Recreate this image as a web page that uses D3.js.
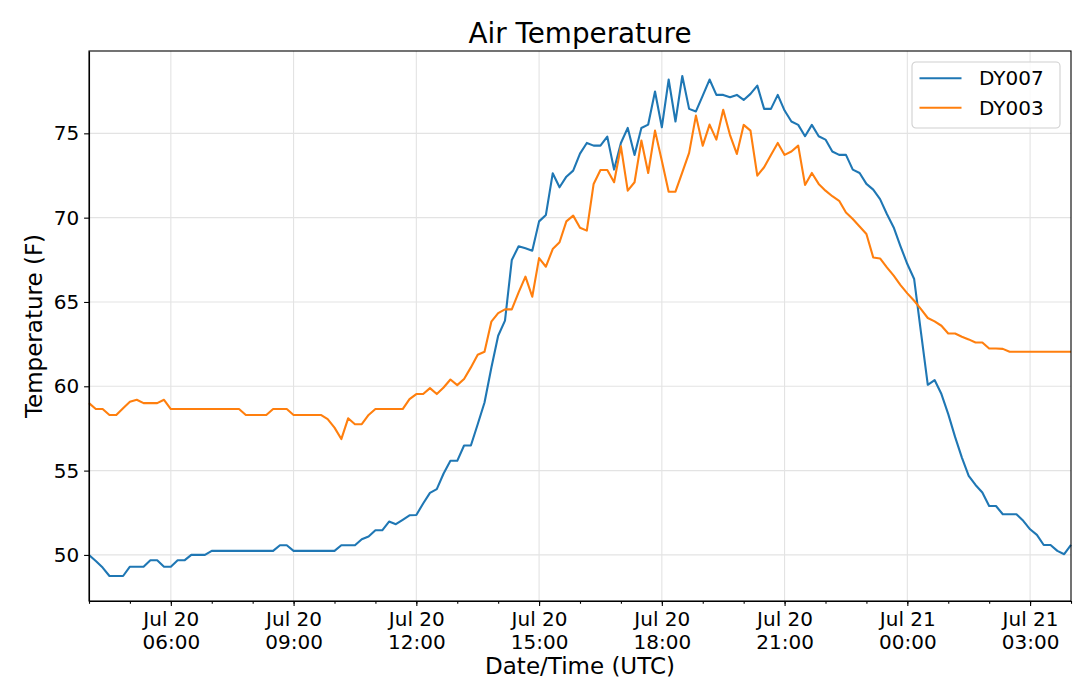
<!DOCTYPE html>
<html>
<head>
<meta charset="utf-8">
<script src="https://cdn.jsdelivr.net/npm/d3@7"></script>
<style>
    body { margin: 0; background: #fff; }
    text { font-family: "DejaVu Sans", sans-serif; fill: #000; }
    .grid line { stroke: #e3e3e3; stroke-width: 1.1px; }
    .axis path, .axis line { stroke: #000; stroke-width: 1.1px; }
</style>
</head>
<body>
<script>
//first reading and spacing of the logger (UTC)
var startTime = new Date(Date.UTC(2019, 6, 20, 4, 0));
var stepMinutes = 10;

//series names and colours
var seriesNames = ["DY007", "DY003"];
var seriesColors = ["#1f77b4", "#ff7f0e"];

//DY007 air temperature (F), one reading every 10 minutes
var dy007 = [50.0, 49.64, 49.25, 48.75, 48.75, 48.75, 49.3, 49.3, 49.3, 49.68,
    49.68, 49.3, 49.3, 49.68, 49.68, 50.0, 50.0, 50.0, 50.24, 50.24,
    50.24, 50.24, 50.24, 50.24, 50.24, 50.24, 50.24, 50.24, 50.57, 50.57,
    50.24, 50.24, 50.24, 50.24, 50.24, 50.24, 50.24, 50.57, 50.57, 50.57,
    50.93, 51.09, 51.46, 51.46, 51.98, 51.82, 52.08, 52.35, 52.37, 53.05,
    53.68, 53.9, 54.83, 55.58, 55.58, 56.49, 56.49, 57.75, 59.04, 61.1,
    63.0, 63.89, 67.49, 68.3, 68.18, 68.04, 69.78, 70.16, 72.63, 71.8,
    72.43, 72.79, 73.8, 74.43, 74.27, 74.27, 74.8, 72.85, 74.43, 75.32,
    73.72, 75.32, 75.52, 77.48, 75.36, 78.19, 75.7, 78.4, 76.45, 76.3,
    77.24, 78.19, 77.28, 77.28, 77.14, 77.28, 76.98, 77.34, 77.83, 76.45,
    76.45, 77.28, 76.35, 75.7, 75.5, 74.83, 75.5, 74.83, 74.63, 73.92,
    73.72, 73.72, 72.85, 72.65, 72.0, 71.66, 71.1, 70.22, 69.42, 68.3,
    67.25, 66.36, 63.19, 60.09, 60.37, 59.54, 58.35, 57.0, 55.77, 54.69,
    54.15, 53.7, 52.9, 52.9, 52.41, 52.41, 52.41, 52.02, 51.52, 51.19,
    50.59, 50.59, 50.24, 50.04, 50.59];

//DY003 air temperature (F)
var dy003 = [59.0, 58.65, 58.65, 58.3, 58.3, 58.7, 59.08, 59.2, 59.0, 59.0,
    59.0, 59.2, 58.65, 58.65, 58.65, 58.65, 58.65, 58.65, 58.65, 58.65,
    58.65, 58.65, 58.65, 58.3, 58.3, 58.3, 58.3, 58.65, 58.65, 58.65,
    58.3, 58.3, 58.3, 58.3, 58.3, 58.05, 57.55, 56.87, 58.1, 57.75,
    57.75, 58.3, 58.65, 58.65, 58.65, 58.65, 58.65, 59.24, 59.54, 59.54,
    59.89, 59.54, 59.93, 60.4, 60.07, 60.43, 61.12, 61.87, 62.05, 63.83,
    64.34, 64.56, 64.56, 65.57, 66.5, 65.31, 67.6, 67.09, 68.14, 68.54,
    69.78, 70.12, 69.4, 69.23, 72.0, 72.83, 72.83, 72.1, 74.23, 71.6,
    72.1, 74.57, 72.65, 75.16, 73.38, 71.54, 71.54, 72.69, 73.84, 76.05,
    74.27, 75.52, 74.63, 76.4, 74.9, 73.78, 75.5, 75.16, 72.49, 72.99,
    73.72, 74.43, 73.72, 73.92, 74.27, 71.94, 72.65, 72.0, 71.6, 71.27,
    71.0, 70.3, 69.92, 69.48, 69.03, 67.64, 67.58, 67.05, 66.56, 66.0,
    65.51, 65.07, 64.58, 64.05, 63.85, 63.59, 63.13, 63.13, 62.94, 62.78,
    62.6, 62.6, 62.24, 62.24, 62.22, 62.05, 62.05, 62.05, 62.05, 62.05,
    62.05, 62.05, 62.05, 62.05, 62.05];

//y tick values
var yTicks = [50, 55, 60, 65, 70, 75];

window.onload = drawChart();

function drawChart(){
    //figure and axes frame
    var width = 1080,
        height = 691,
        margin = {top: 51, right: 9, bottom: 90, left: 89};
    var plotW = width - margin.left - margin.right,
        plotH = height - margin.top - margin.bottom;

    var svg = d3.select("body")
        .append("svg")
        .attr("width", width)
        .attr("height", height);

    //timestamps for each reading
    var times = dy007.map(function(d, i){
        return d3.utcMinute.offset(startTime, i * stepMinutes);
    });

    var series = [dy007, dy003].map(function(vals, k){
        return {
            name: seriesNames[k],
            color: seriesColors[k],
            values: vals.map(function(v, i){ return {t: times[i], v: v}; })
        };
    });

    //x fits the data exactly, y gets a 5% margin like matplotlib
    var x = d3.scaleUtc()
        .domain(d3.extent(times))
        .range([0, plotW]);

    var all = dy007.concat(dy003);
    var lo = d3.min(all), hi = d3.max(all), pad = (hi - lo) * 0.05;
    var y = d3.scaleLinear()
        .domain([lo - pad, hi + pad])
        .range([plotH, 0]);

    var g = svg.append("g")
        .attr("transform", "translate(" + margin.left + "," + margin.top + ")");

    var majorTicks = d3.utcHour.every(3).range(x.domain()[0], x.domain()[1]).filter(function(d){
        return d > x.domain()[0];
    });
    var minorTicks = d3.utcHour.every(1).range(x.domain()[0], d3.utcMinute.offset(x.domain()[1], 1));

    //grid lines
    g.append("g")
        .attr("class", "grid")
        .selectAll("line.xg")
        .data(majorTicks)
        .enter()
        .append("line")
        .attr("x1", function(d){ return x(d); })
        .attr("x2", function(d){ return x(d); })
        .attr("y1", 0)
        .attr("y2", plotH);

    g.append("g")
        .attr("class", "grid")
        .selectAll("line.yg")
        .data(yTicks)
        .enter()
        .append("line")
        .attr("x1", 0)
        .attr("x2", plotW)
        .attr("y1", function(d){ return y(d); })
        .attr("y2", function(d){ return y(d); });

    //lines
    var line = d3.line()
        .x(function(d){ return x(d.t); })
        .y(function(d){ return y(d.v); });

    g.selectAll(".series")
        .data(series)
        .enter()
        .append("path")
        .attr("class", "series")
        .attr("fill", "none")
        .attr("stroke", function(d){ return d.color; })
        .attr("stroke-width", 2.1)
        .attr("stroke-linejoin", "round")
        .attr("d", function(d){ return line(d.values); });

    //minor x ticks (hourly)
    g.append("g")
        .attr("class", "axis")
        .attr("transform", "translate(0," + plotH + ")")
        .call(d3.axisBottom(x).tickValues(minorTicks).tickSize(2.8).tickFormat(""))
        .select(".domain").remove();

    //major x ticks with two-line labels
    var fmtDay = d3.utcFormat("%b %d"),
        fmtTime = d3.utcFormat("%H:%M");
    var xAxis = g.append("g")
        .attr("class", "axis")
        .attr("transform", "translate(0," + plotH + ")")
        .call(d3.axisBottom(x).tickValues(majorTicks).tickSize(4.9).tickPadding(4.9).tickSizeOuter(0).tickFormat(""));
    xAxis.selectAll(".tick").each(function(d){
        var t = d3.select(this).append("text")
            .attr("text-anchor", "middle")
            .style("font-size", "20px");
        t.append("tspan").attr("x", 0).attr("y", 24.5).text(fmtDay(d));
        t.append("tspan").attr("x", 0).attr("y", 48).text(fmtTime(d));
    });

    //y axis
    var yAxis = g.append("g")
        .attr("class", "axis")
        .call(d3.axisLeft(y).tickValues(yTicks).tickSize(4.9).tickPadding(4.9).tickSizeOuter(0));
    yAxis.selectAll("text")
        .style("font-size", "20px")
        .style("font-family", "DejaVu Sans");

    //frame
    g.append("rect")
        .attr("width", plotW)
        .attr("height", plotH)
        .attr("fill", "none")
        .attr("stroke", "#000")
        .attr("stroke-width", 1.1);

    //title and axis labels
    svg.append("text")
        .attr("x", margin.left + plotW / 2)
        .attr("y", 43)
        .attr("text-anchor", "middle")
        .style("font-size", "27.8px")
        .text("Air Temperature");

    svg.append("text")
        .attr("x", margin.left + plotW / 2)
        .attr("y", 674)
        .attr("text-anchor", "middle")
        .style("font-size", "23px")
        .text("Date/Time (UTC)");

    svg.append("text")
        .attr("transform", "translate(41.5," + (margin.top + plotH / 2) + ") rotate(-90)")
        .attr("text-anchor", "middle")
        .style("font-size", "23px")
        .text("Temperature (F)");

    //legend
    var legend = svg.append("g")
        .attr("transform", "translate(912,62)");
    legend.append("rect")
        .attr("width", 148)
        .attr("height", 66)
        .attr("rx", 4)
        .attr("fill", "#fff")
        .attr("fill-opacity", 0.8)
        .attr("stroke", "#d0d0d0")
        .attr("stroke-width", 1.1);
    var items = legend.selectAll(".item")
        .data(series)
        .enter()
        .append("g")
        .attr("class", "item")
        .attr("transform", function(d, i){ return "translate(0," + (16.3 + i * 29.4) + ")"; });
    items.append("line")
        .attr("x1", 7.5)
        .attr("x2", 49.5)
        .attr("stroke", function(d){ return d.color; })
        .attr("stroke-width", 2.1);
    items.append("text")
        .attr("x", 67)
        .attr("dy", "0.35em")
        .style("font-size", "20px")
        .text(function(d){ return d.name; });
};
</script>
</body>
</html>
